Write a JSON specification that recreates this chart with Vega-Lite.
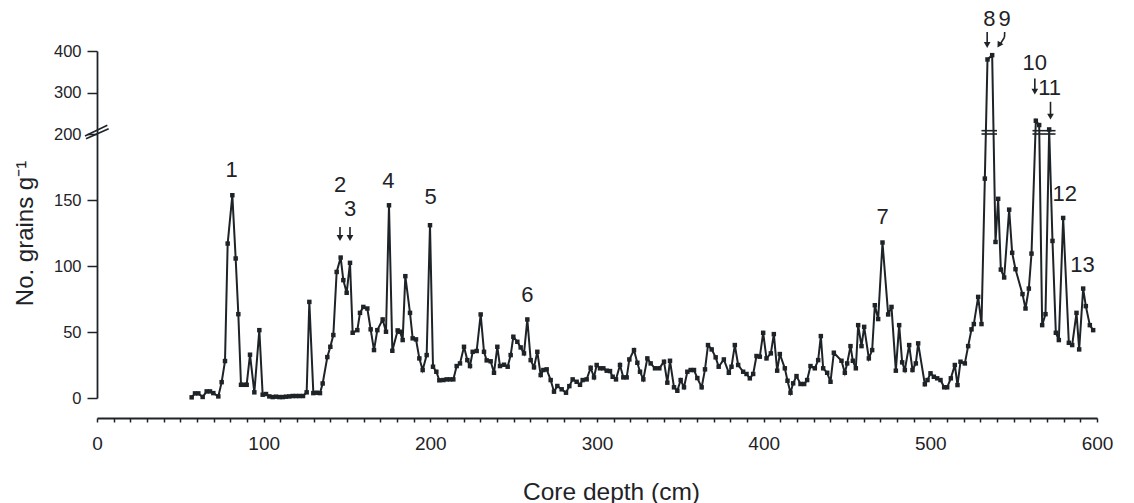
{
  "$schema": "https://vega.github.io/schema/vega-lite/v6.json",
  "width": 1000,
  "height": 347,
  "autosize": {"type": "none"},
  "padding": {"left": 97, "top": 51, "right": 37, "bottom": 105},
  "background": "white",
  "config": {"view": {"stroke": null}, "font": "Liberation Sans", "axis": {"labelFont": "Liberation Sans", "titleFont": "Liberation Sans"}},
  "datasets": {
    "main": [
      {"depth": 56.8, "grains": 0.5}, {"depth": 58.8, "grains": 3.5}, {"depth": 60.8, "grains": 3.5}, {"depth": 63.4, "grains": 0.8},
      {"depth": 65.8, "grains": 5}, {"depth": 67.8, "grains": 5}, {"depth": 69.8, "grains": 3.7}, {"depth": 72.8, "grains": 1.2},
      {"depth": 74.8, "grains": 12}, {"depth": 76.8, "grains": 28}, {"depth": 78.4, "grains": 117}, {"depth": 81.2, "grains": 153.6},
      {"depth": 83.2, "grains": 105.7}, {"depth": 84.8, "grains": 63.5}, {"depth": 86.4, "grains": 10}, {"depth": 88.2, "grains": 10},
      {"depth": 89.8, "grains": 10}, {"depth": 91.8, "grains": 32.8}, {"depth": 94.4, "grains": 4.3}, {"depth": 97.4, "grains": 51.4},
      {"depth": 99.4, "grains": 2.5}, {"depth": 101.4, "grains": 3}, {"depth": 103.4, "grains": 1.2}, {"depth": 105.4, "grains": 0.7},
      {"depth": 107.4, "grains": 1}, {"depth": 109.4, "grains": 0.7}, {"depth": 111.4, "grains": 0.7}, {"depth": 113.4, "grains": 1},
      {"depth": 115.4, "grains": 1.2}, {"depth": 117.4, "grains": 1.5}, {"depth": 119.4, "grains": 1.5}, {"depth": 121.4, "grains": 1.5},
      {"depth": 123.6, "grains": 1.5}, {"depth": 125.8, "grains": 4.3}, {"depth": 127.4, "grains": 72.8}, {"depth": 129.8, "grains": 3.7},
      {"depth": 131.8, "grains": 4}, {"depth": 133.8, "grains": 3.7}, {"depth": 135.4, "grains": 11}, {"depth": 138.2, "grains": 31},
      {"depth": 140, "grains": 38.8}, {"depth": 141.8, "grains": 47.7}, {"depth": 143.8, "grains": 95.5}, {"depth": 146.2, "grains": 106.4},
      {"depth": 147.8, "grains": 89.3}, {"depth": 149.8, "grains": 79.7}, {"depth": 151.8, "grains": 102.4}, {"depth": 153.4, "grains": 49.4},
      {"depth": 156.2, "grains": 51.4}, {"depth": 157.8, "grains": 64.5}, {"depth": 159.8, "grains": 69}, {"depth": 162.2, "grains": 67.8},
      {"depth": 164.2, "grains": 52}, {"depth": 166.2, "grains": 36.3}, {"depth": 168.2, "grains": 51.4}, {"depth": 171.4, "grains": 59.5},
      {"depth": 173.4, "grains": 50.2}, {"depth": 175.2, "grains": 146}, {"depth": 177.2, "grains": 35.8}, {"depth": 180.4, "grains": 51.2},
      {"depth": 181.8, "grains": 50.2}, {"depth": 183.4, "grains": 43.9}, {"depth": 185, "grains": 92.3}, {"depth": 187.8, "grains": 64.5},
      {"depth": 189.4, "grains": 45.2}, {"depth": 191.4, "grains": 44.4}, {"depth": 193.4, "grains": 30}, {"depth": 195.4, "grains": 21.2},
      {"depth": 197.8, "grains": 32.5}, {"depth": 199.8, "grains": 130.9}, {"depth": 201.6, "grains": 23.7}, {"depth": 203.6, "grains": 19.9},
      {"depth": 205.4, "grains": 13.4}, {"depth": 207.8, "grains": 13.6}, {"depth": 209.8, "grains": 14.1}, {"depth": 211.8, "grains": 14.1},
      {"depth": 213.8, "grains": 14.1}, {"depth": 215.8, "grains": 24.2}, {"depth": 217.8, "grains": 26.2}, {"depth": 220.2, "grains": 38.8},
      {"depth": 222.2, "grains": 28.7}, {"depth": 223.8, "grains": 24.2}, {"depth": 225.4, "grains": 35}, {"depth": 227.8, "grains": 35.6},
      {"depth": 230.2, "grains": 63.3}, {"depth": 232.2, "grains": 35}, {"depth": 233.8, "grains": 28.5}, {"depth": 236.2, "grains": 27.8},
      {"depth": 238.2, "grains": 19.1}, {"depth": 240.2, "grains": 38.8}, {"depth": 241.8, "grains": 24.2}, {"depth": 244.2, "grains": 25.2},
      {"depth": 246.4, "grains": 23.7}, {"depth": 248.2, "grains": 32.5}, {"depth": 249.8, "grains": 46.4}, {"depth": 252.2, "grains": 42.6},
      {"depth": 254.2, "grains": 38.3}, {"depth": 256.2, "grains": 33.8}, {"depth": 258.2, "grains": 59.5}, {"depth": 260.2, "grains": 28.7},
      {"depth": 262.2, "grains": 23.2}, {"depth": 264.2, "grains": 35}, {"depth": 266.2, "grains": 17.4}, {"depth": 267.8, "grains": 21.2},
      {"depth": 269.8, "grains": 21.7}, {"depth": 272.2, "grains": 13.6}, {"depth": 274.2, "grains": 4.8}, {"depth": 276.2, "grains": 9.1},
      {"depth": 278.8, "grains": 6.6}, {"depth": 281.4, "grains": 4}, {"depth": 283.4, "grains": 9}, {"depth": 285.4, "grains": 14.1},
      {"depth": 287.8, "grains": 12.3}, {"depth": 289.8, "grains": 10}, {"depth": 291.4, "grains": 13.6}, {"depth": 293.8, "grains": 14.1},
      {"depth": 296.2, "grains": 22.9}, {"depth": 298.2, "grains": 15.6}, {"depth": 299.8, "grains": 25}, {"depth": 301.8, "grains": 22.5},
      {"depth": 303.8, "grains": 22.5}, {"depth": 305.8, "grains": 20.7}, {"depth": 307.8, "grains": 20.4}, {"depth": 309.4, "grains": 16.1},
      {"depth": 311.4, "grains": 14.1}, {"depth": 313.8, "grains": 25}, {"depth": 315.8, "grains": 15.6}, {"depth": 317.8, "grains": 15.6},
      {"depth": 319.4, "grains": 29.2}, {"depth": 322.2, "grains": 36.3}, {"depth": 324.2, "grains": 26.7}, {"depth": 325.8, "grains": 19.9},
      {"depth": 327.8, "grains": 14.1}, {"depth": 330.2, "grains": 30}, {"depth": 332.2, "grains": 26.2}, {"depth": 334.8, "grains": 22.5},
      {"depth": 337.4, "grains": 22.5}, {"depth": 340.2, "grains": 27.5}, {"depth": 342.2, "grains": 11.6}, {"depth": 343.8, "grains": 28.2},
      {"depth": 346.2, "grains": 8.1}, {"depth": 348.2, "grains": 5.5}, {"depth": 350.2, "grains": 13.6}, {"depth": 352.2, "grains": 8.1},
      {"depth": 354.2, "grains": 19.9}, {"depth": 356.2, "grains": 21.2}, {"depth": 358.2, "grains": 21.2}, {"depth": 360.2, "grains": 15.1},
      {"depth": 362.8, "grains": 8.1}, {"depth": 364.8, "grains": 21.7}, {"depth": 366.6, "grains": 40.1}, {"depth": 368.8, "grains": 36.8},
      {"depth": 371.2, "grains": 30.8}, {"depth": 373, "grains": 23.7}, {"depth": 376.1, "grains": 29.2}, {"depth": 379.1, "grains": 19.1},
      {"depth": 380.7, "grains": 23.7}, {"depth": 382.7, "grains": 40.1}, {"depth": 384.7, "grains": 25}, {"depth": 387.7, "grains": 19.9},
      {"depth": 389.7, "grains": 18.2}, {"depth": 391.7, "grains": 14.9}, {"depth": 393.7, "grains": 18.2}, {"depth": 395.7, "grains": 31.8},
      {"depth": 397.7, "grains": 31.3}, {"depth": 399.7, "grains": 49.4}, {"depth": 401.7, "grains": 30}, {"depth": 404.3, "grains": 33.8},
      {"depth": 406.1, "grains": 48.4}, {"depth": 408.1, "grains": 20.7}, {"depth": 409.7, "grains": 33.3}, {"depth": 412.7, "grains": 22.5},
      {"depth": 414.3, "grains": 13.1}, {"depth": 416.1, "grains": 4}, {"depth": 417.7, "grains": 11.1}, {"depth": 419.7, "grains": 16.6},
      {"depth": 422.1, "grains": 10.6}, {"depth": 424.3, "grains": 10.6}, {"depth": 426.1, "grains": 13.6}, {"depth": 428.1, "grains": 24.2},
      {"depth": 430.7, "grains": 22.5}, {"depth": 432.7, "grains": 28.7}, {"depth": 434.3, "grains": 46.9}, {"depth": 435.7, "grains": 22.5},
      {"depth": 438.1, "grains": 19.1}, {"depth": 440.1, "grains": 12.3}, {"depth": 442.1, "grains": 34.3}, {"depth": 446.7, "grains": 28.2},
      {"depth": 448.7, "grains": 19.1}, {"depth": 450.1, "grains": 26.2}, {"depth": 452.1, "grains": 39.3}, {"depth": 453.5, "grains": 28.2},
      {"depth": 455.3, "grains": 22.5}, {"depth": 456.7, "grains": 55.2}, {"depth": 458.7, "grains": 39.3}, {"depth": 460.3, "grains": 53.9},
      {"depth": 463.1, "grains": 30}, {"depth": 465.1, "grains": 36.3}, {"depth": 466.7, "grains": 70.3}, {"depth": 468.7, "grains": 59.8},
      {"depth": 471.3, "grains": 117.8}, {"depth": 474.7, "grains": 63.3}, {"depth": 476.7, "grains": 69}, {"depth": 479.3, "grains": 20.7},
      {"depth": 481.3, "grains": 55.2}, {"depth": 483.1, "grains": 27}, {"depth": 484.7, "grains": 21.2}, {"depth": 487.3, "grains": 40.1},
      {"depth": 489.3, "grains": 21.2}, {"depth": 491.3, "grains": 26.2}, {"depth": 492.7, "grains": 41.4}, {"depth": 496.7, "grains": 10.4},
      {"depth": 498.3, "grains": 13.6}, {"depth": 500.1, "grains": 18.7}, {"depth": 502.1, "grains": 16.1}, {"depth": 504.1, "grains": 14.9},
      {"depth": 506.1, "grains": 13.6}, {"depth": 508.3, "grains": 8.1}, {"depth": 510.1, "grains": 8.1}, {"depth": 512.3, "grains": 14.9},
      {"depth": 514.7, "grains": 25}, {"depth": 516.3, "grains": 9.8}, {"depth": 518.1, "grains": 27.5}, {"depth": 520.7, "grains": 26.2},
      {"depth": 522.7, "grains": 39.3}, {"depth": 524.7, "grains": 52}, {"depth": 526.1, "grains": 56}, {"depth": 528.7, "grains": 76.6},
      {"depth": 530.7, "grains": 56}, {"depth": 532.7, "grains": 166.2}, {"depth": 534.3, "grains": 379.6}, {"depth": 537.1, "grains": 390},
      {"depth": 539.1, "grains": 118.2}, {"depth": 540.7, "grains": 150.9}, {"depth": 542.3, "grains": 97.3}, {"depth": 544.3, "grains": 91.3},
      {"depth": 547.3, "grains": 142.7}, {"depth": 549.1, "grains": 110}, {"depth": 551.1, "grains": 97.6}, {"depth": 555.3, "grains": 78.7},
      {"depth": 557.1, "grains": 67.8}, {"depth": 559.1, "grains": 82.9}, {"depth": 560.7, "grains": 109.4}, {"depth": 563.3, "grains": 232},
      {"depth": 565.3, "grains": 221.6}, {"depth": 567.1, "grains": 55.2}, {"depth": 569.1, "grains": 63.5}, {"depth": 571.3, "grains": 211},
      {"depth": 573.3, "grains": 119}, {"depth": 575.3, "grains": 49.4}, {"depth": 577.1, "grains": 43.9}, {"depth": 579.7, "grains": 136.4},
      {"depth": 583.1, "grains": 41.8}, {"depth": 585.1, "grains": 40.1}, {"depth": 587.7, "grains": 64.5}, {"depth": 589.3, "grains": 36.8},
      {"depth": 591.7, "grains": 82.9}, {"depth": 593.3, "grains": 69.6}, {"depth": 595.7, "grains": 55.2}, {"depth": 597.7, "grains": 51.4}
    ],
    "peaks": [
      {"depth": 80.8, "grains": 173, "label": "1"},
      {"depth": 145.8, "grains": 161, "label": "2"},
      {"depth": 151.8, "grains": 143.5, "label": "3"},
      {"depth": 174.8, "grains": 164.4, "label": "4"},
      {"depth": 200.2, "grains": 152.3, "label": "5"},
      {"depth": 258.2, "grains": 78.4, "label": "6"},
      {"depth": 471.3, "grains": 137, "label": "7"},
      {"depth": 535.4, "grains": 478, "label": "8"},
      {"depth": 544.6, "grains": 478, "label": "9"},
      {"depth": 562.7, "grains": 370, "label": "10"},
      {"depth": 571.6, "grains": 310, "label": "11"},
      {"depth": 580.7, "grains": 154.8, "label": "12"},
      {"depth": 591.3, "grains": 100.6, "label": "13"}
    ],
    "heads": [
      {"depth": 145.8, "grains": 121.2, "angle": 0},
      {"depth": 151.8, "grains": 121.2, "angle": 0},
      {"depth": 534.1, "grains": 414.4, "angle": 0},
      {"depth": 541.2, "grains": 414.5, "angle": 32},
      {"depth": 562.7, "grains": 302.2, "angle": 0},
      {"depth": 572.1, "grains": 242, "angle": 0}
    ],
    "segs": [
      {"x1": 145.8, "x2": 145.8, "y1": 129.6, "y2": 122},
      {"x1": 151.8, "x2": 151.8, "y1": 129.6, "y2": 122},
      {"x1": 534.1, "x2": 534.1, "y1": 446, "y2": 417},
      {"x1": 544.6, "x2": 544.5, "y1": 446, "y2": 433},
      {"x1": 544.5, "x2": 541.8, "y1": 433, "y2": 416},
      {"x1": 562.7, "x2": 562.7, "y1": 334, "y2": 305},
      {"x1": 572.1, "x2": 572.1, "y1": 277.6, "y2": 245},
      {"x1": 530.7, "x2": 540, "y1": 200, "y2": 200},
      {"x1": 530.7, "x2": 540, "y1": 208, "y2": 208},
      {"x1": 561.3, "x2": 575.1, "y1": 200, "y2": 200},
      {"x1": 561.3, "x2": 575.1, "y1": 208, "y2": 208},
      {"x1": -7.2, "x2": 6.2, "y1": 198.5, "y2": 221},
      {"x1": -6.6, "x2": 7, "y1": 196.4, "y2": 212.7}
    ]
  },
  "layer": [
    {
      "data": {"name": "main"},
      "mark": {"type": "line", "color": "#1e2327", "strokeWidth": 2, "point": {"shape": "square", "size": 20, "filled": true, "color": "#1e2327"}},
      "encoding": {
        "x": {
          "field": "depth", "type": "quantitative",
          "scale": {"domain": [0, 600], "nice": false, "zero": false},
          "axis": {
            "values": [0,10,20,30,40,50,60,70,80,90,100,110,120,130,140,150,160,170,180,190,200,210,220,230,240,250,260,270,280,290,300,310,320,330,340,350,360,370,380,390,400,410,420,430,440,450,460,470,480,490,500,510,520,530,540,550,560,570,580,590,600],
            "tickCount": 200,
            "labelExpr": "datum.value % 100 === 0 ? datum.label : ''",
            "labelOverlap": false, "labelFlush": false,
            "grid": false, "offset": 20, "tickSize": 4, "tickWidth": 1.5, "tickColor": "#1e2327",
            "domainColor": "#1e2327", "domainWidth": 1.8,
            "labelFontSize": 19, "labelColor": "#1e2327", "labelPadding": 12,
            "title": "Core depth (cm)", "titleFontSize": 24.5, "titleFontWeight": "normal", "titleColor": "#1e2327",
            "titleX": 514, "titleY": 74, "titleBaseline": "middle",
            "encode": {"ticks": {"update": {"y": {"signal": "datum.value % 100 === 0 ? -5 : 0"}, "y2": {"signal": "datum.value % 100 === 0 ? 6 : 4"}}}}
          }
        },
        "y": {
          "field": "grains", "type": "quantitative",
          "scale": {"domain": [0, 200, 400], "range": [347, 83, 0], "nice": false, "zero": false},
          "axis": {
            "values": [0, 50, 100, 150, 200, 300, 400],
            "tickCount": 50,
            "labelOverlap": false, "grid": false,
            "tickSize": 10, "tickWidth": 1.5, "tickColor": "#1e2327",
            "domainColor": "#1e2327", "domainWidth": 1.8,
            "labelFontSize": 16.5, "labelColor": "#1e2327", "labelPadding": 6,
            "title": "No. grains g⁻¹", "titleFontSize": 24, "titleFontWeight": "normal", "titleColor": "#1e2327",
            "titleX": -72, "titleY": 182, "titleAngle": -90, "titleAlign": "center", "titleBaseline": "middle"
          }
        }
      }
    },
    {
      "data": {"name": "segs"},
      "mark": {"type": "rule", "color": "#1e2327", "strokeWidth": 1.6},
      "encoding": {
        "x": {"field": "x1", "type": "quantitative"},
        "x2": {"field": "x2"},
        "y": {"field": "y1", "type": "quantitative"},
        "y2": {"field": "y2"}
      }
    },
    {
      "data": {"name": "heads"},
      "mark": {"type": "point", "shape": "triangle-down", "filled": true, "size": 45, "color": "#1e2327", "opacity": 1},
      "encoding": {
        "x": {"field": "depth", "type": "quantitative"},
        "y": {"field": "grains", "type": "quantitative"},
        "angle": {"field": "angle", "type": "quantitative", "scale": null}
      }
    },
    {
      "data": {"name": "peaks"},
      "mark": {"type": "text", "fontSize": 22, "color": "#1e2327", "align": "center", "baseline": "middle"},
      "encoding": {
        "x": {"field": "depth", "type": "quantitative"},
        "y": {"field": "grains", "type": "quantitative"},
        "text": {"field": "label"}
      }
    }
  ]
}
